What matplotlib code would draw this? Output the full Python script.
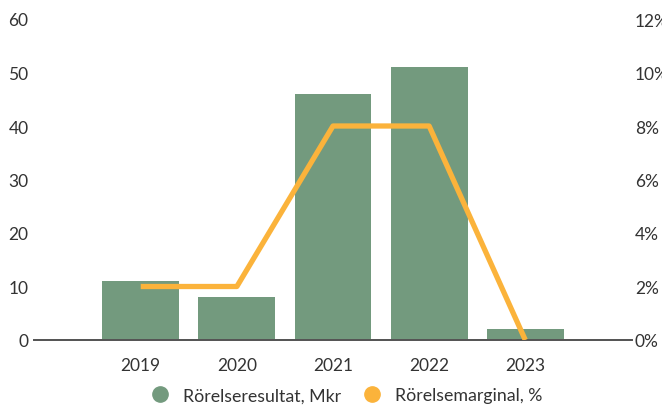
import matplotlib.pyplot as plt
from matplotlib.lines import Line2D

years = ['2019', '2020', '2021', '2022', '2023']
resultat = [11, 8, 46, 51, 2]        # Mkr
marginal = [2, 2, 8, 8, 0]           # %

green = '#739a7e'
orange = '#fbb33b'
textc = '#333333'

plt.rcParams['font.family'] = ['Lato', 'DejaVu Sans']

fig = plt.figure(figsize=(6.62, 4.14), dpi=100)
ax = fig.add_axes([34 / 662, 73 / 414, 598 / 662, 321 / 414])
x = range(len(years))
ax.bar(x, resultat, width=0.8, color=green, zorder=2)
ax.set_ylim(0, 60)
ax.set_xlim(-1.11, 5.11)
ax.set_yticks(range(0, 61, 10))
ax.set_xticks(list(x))
ax.set_xticklabels(years)

ax2 = ax.twinx()
ax2.plot(x, marginal, color=orange, linewidth=3.8, solid_capstyle='butt', zorder=3)
ax2.set_ylim(0, 12)
ax2.set_yticks(range(0, 13, 2))
ax2.set_yticklabels([f'{v}%' for v in range(0, 13, 2)])

for a in (ax, ax2):
    for s in ['top', 'right', 'left']:
        a.spines[s].set_visible(False)
    a.spines['bottom'].set_color('#555555')
    a.spines['bottom'].set_linewidth(1.3)
    a.tick_params(axis='both', length=0, labelsize=12.5, colors=textc)
ax.tick_params(axis='y', pad=4)
ax.tick_params(axis='x', pad=12)
ax2.tick_params(axis='y', pad=2)

handles = [
    Line2D([], [], marker='o', linestyle='none', markersize=11, color=green),
    Line2D([], [], marker='o', linestyle='none', markersize=11, color=orange),
]
fig.legend(handles, ['Rörelseresultat, Mkr', 'Rörelsemarginal, %'],
           loc='center', bbox_to_anchor=(0.517, 0.043), ncol=2, frameon=False,
           fontsize=12.8, handletextpad=0.3, columnspacing=0.7,
           labelcolor=textc)

fig.savefig('out.png', dpi=100)
